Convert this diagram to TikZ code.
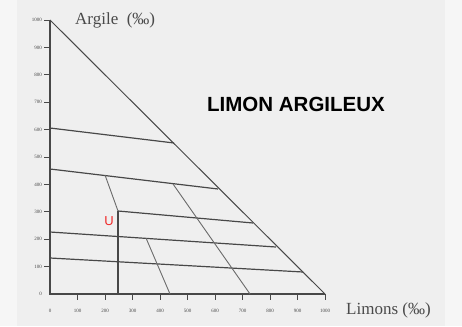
\documentclass[tikz,border=0pt]{standalone}
\usepackage{fontspec}
\newfontfamily\serifA{Liberation Serif}
\newfontfamily\sansB{Liberation Sans}
\definecolor{bgout}{HTML}{F6F6F6}
\definecolor{bgin}{HTML}{EFEFEF}
\definecolor{ink}{HTML}{484848}
\definecolor{inkl}{HTML}{6A6A6A}
\definecolor{labc}{HTML}{4A4A4A}
\definecolor{redU}{HTML}{F02828}
\tikzset{
  axisline/.style={draw=ink,line width=1.2pt},
  classline/.style={draw=ink,line width=1.2pt},
  diagline/.style={draw=inkl,line width=0.9pt},
  ticklab/.style={font=\serifA\fontsize{5}{6}\selectfont,text=labc,inner sep=0pt},
  axtitle/.style={font=\serifA\fontsize{17}{18}\selectfont,text=labc,inner sep=0pt},
}
\begin{document}
\begin{tikzpicture}[x=1pt,y=-1pt]
\useasboundingbox (0,0) rectangle (462,326);
\fill[bgout] (0,0) rectangle (462,326);
\fill[bgin] (17,0) rectangle (445,326);
% corners of the triangle
\coordinate (top) at (50,20);
\coordinate (org) at (50,294);
\coordinate (right) at (325,294);
% axes and hypotenuse
\draw[axisline] (top) -- (org) -- (right);
\draw[axisline,line width=1pt] (top) -- (right);
% ticks and tick labels
\foreach \k in {0,...,10}{
  \pgfmathsetmacro\yy{294-27.4*\k}
  \pgfmathsetmacro\xx{50+27.5*\k}
  \pgfmathtruncatemacro\vv{100*\k}
  \node[ticklab,anchor=east] (yl\k) at (42,\yy) {\vv};
  \node[ticklab] (xl\k) at (\xx,311) {\vv};
}
\foreach \k in {1,...,10}{
  \pgfmathsetmacro\yy{294-27.4*\k}
  \pgfmathsetmacro\xx{50+27.5*\k}
  \draw[axisline,line width=0.8pt] (44,\yy) -- (50,\yy);
  \draw[axisline,line width=0.8pt] (\xx,294) -- (\xx,300);
}
% class boundary lines
\coordinate (l1s) at (50,128);  \coordinate (l1e) at (174,143);
\coordinate (l2s) at (50,169);  \coordinate (l2e) at (218,189);
\coordinate (l3s) at (118,211); \coordinate (l3e) at (253,223);
\coordinate (l4s) at (50,232);  \coordinate (l4e) at (276,247);
\coordinate (l5s) at (50,258);  \coordinate (l5e) at (303,272);
\coordinate (vb) at (118,294);
\draw[classline] (l1s) -- (l1e);
\draw[classline] (l2s) -- (l2e);
\draw[classline] (l3s) -- (l3e);
\draw[classline] (l4s) -- (l4e);
\draw[classline] (l5s) -- (l5e);
\draw[classline] (l3s) -- (vb);
% slanted lines
\coordinate (das) at (105,175);
\coordinate (dbs) at (173,184); \coordinate (dbe) at (250,294);
\coordinate (dcs) at (146,238); \coordinate (dce) at (170,294);
\draw[diagline] (das) -- (l3s);
\draw[diagline] (dbs) -- (dbe);
\draw[diagline] (dcs) -- (dce);
% titles
\node[axtitle,anchor=west] (argile) at (75,20) {Argile\ \ (‰)};
\node[axtitle,anchor=west] (limons) at (346,310) {Limons (‰)};
\node[font=\sansB\bfseries\fontsize{20.5}{22}\selectfont,inner sep=0pt] (title) at (296,104) {LIMON ARGILEUX};
\node[font=\sansB\fontsize{13}{14}\selectfont,text=redU,inner sep=0pt] (u) at (109,221) {U};
\end{tikzpicture}
\end{document}
